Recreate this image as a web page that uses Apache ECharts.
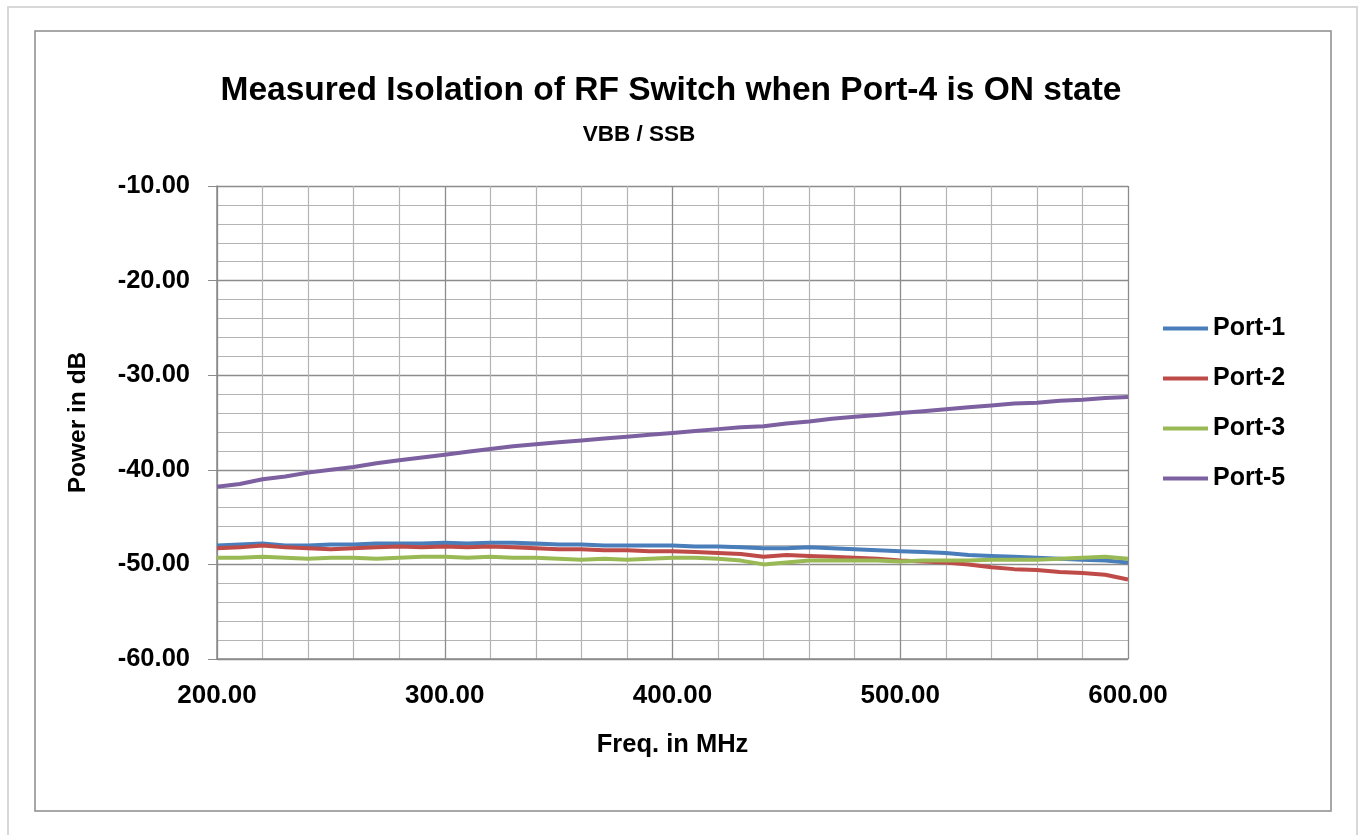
<!DOCTYPE html>
<html>
<head>
<meta charset="utf-8">
<script src="https://cdn.jsdelivr.net/npm/echarts@6/dist/echarts.min.js"></script>
<style>
html,body{margin:0;padding:0;background:#fff;}
#c{width:1359px;height:835px;}
</style>
</head>
<body>
<div id="c"></div>
<script>
var FONT = "'Liberation Sans',Arial,sans-serif";
var titleText = 'Measured Isolation of RF Switch when Port-4 is ON state';
var subtitleText = 'VBB / SSB';
var xAxisName = 'Freq. in MHz';
var yAxisName = 'Power in dB';
var seriesNames = ['Port-1', 'Port-2', 'Port-3', 'Port-5'];

var freq = [200,210,220,230,240,250,260,270,280,290,300,310,320,330,340,350,360,370,380,390,400,
            410,420,430,440,450,460,470,480,490,500,510,520,530,540,550,560,570,580,590,600];

var port1 = [-48.0,-47.9,-47.8,-48.0,-48.0,-47.9,-47.9,-47.8,-47.8,-47.8,-47.7,-47.8,-47.7,-47.7,-47.8,-47.9,-47.9,-48.0,-48.0,-48.0,-48.0,
             -48.1,-48.1,-48.2,-48.3,-48.3,-48.2,-48.3,-48.4,-48.5,-48.6,-48.7,-48.8,-49.0,-49.1,-49.2,-49.3,-49.4,-49.5,-49.6,-49.8];
var port2 = [-48.3,-48.2,-48.0,-48.2,-48.3,-48.4,-48.3,-48.2,-48.1,-48.2,-48.1,-48.2,-48.1,-48.2,-48.3,-48.4,-48.4,-48.5,-48.5,-48.6,-48.6,
             -48.7,-48.8,-48.9,-49.2,-49.0,-49.1,-49.2,-49.3,-49.4,-49.6,-49.7,-49.8,-50.0,-50.3,-50.5,-50.6,-50.8,-50.9,-51.1,-51.6];
var port3 = [-49.3,-49.3,-49.2,-49.3,-49.4,-49.3,-49.3,-49.4,-49.3,-49.2,-49.2,-49.3,-49.2,-49.3,-49.3,-49.4,-49.5,-49.4,-49.5,-49.4,-49.3,
             -49.3,-49.4,-49.6,-50.0,-49.8,-49.6,-49.6,-49.6,-49.6,-49.7,-49.6,-49.6,-49.6,-49.5,-49.5,-49.5,-49.4,-49.3,-49.2,-49.4];
var port5 = [-41.8,-41.5,-41.0,-40.7,-40.3,-40.0,-39.7,-39.3,-39.0,-38.7,-38.4,-38.1,-37.8,-37.5,-37.3,-37.1,-36.9,-36.7,-36.5,-36.3,-36.1,
             -35.9,-35.7,-35.5,-35.4,-35.1,-34.9,-34.6,-34.4,-34.2,-34.0,-33.8,-33.6,-33.4,-33.2,-33.0,-32.9,-32.7,-32.6,-32.4,-32.3];

var colors = ['#4a7ebb', '#be4b48', '#98b954', '#7d60a0'];
var allSeries = [port1, port2, port3, port5];

function pairs(v){ return freq.map(function(f,i){ return [f, v[i]]; }); }

var chart = echarts.init(document.getElementById('c'), null, {renderer:'canvas'});
var option = {
  backgroundColor: '#ffffff',
  animation: false,
  color: colors,
  title: [
    { text: titleText, left: 666, textAlign: 'center', top: 69,
      textStyle: { fontFamily: FONT, fontWeight: 'bold', fontSize: 33.5, color: '#000' } },
    { text: subtitleText, left: 634, textAlign: 'center', top: 118,
      textStyle: { fontFamily: FONT, fontWeight: 'bold', fontSize: 22.5, color: '#000' } }
  ],
  legend: {
    orient: 'vertical', left: 1158, top: 311, itemGap: 25,
    itemWidth: 45, itemHeight: 4, icon: 'rect',
    textStyle: { fontFamily: FONT, fontWeight: 'bold', fontSize: 25, color: '#000' },
    data: seriesNames
  },
  grid: { left: 217, top: 186, width: 911, height: 473, containLabel: false },
  xAxis: {
    type: 'value', min: 200, max: 600, interval: 100,
    name: xAxisName, nameLocation: 'middle', nameGap: 73,
    nameTextStyle: { fontFamily: FONT, fontWeight: 'bold', fontSize: 25.5, color: '#000' },
    axisLine: { show: true, onZero: false, lineStyle: { color: '#8a8a8a', width: 1.5 } },
    axisTick: { show: false },
    axisLabel: { margin: 24, fontFamily: FONT, fontWeight: 'bold', fontSize: 26, color: '#000',
      formatter: function(v){ return v.toFixed(2); } },
    splitLine: { show: true, lineStyle: { color: '#8c8c8c', width: 1.3 } },
    minorTick: { show: false, splitNumber: 5 },
    minorSplitLine: { show: true, lineStyle: { color: '#b4b4b4', width: 1.2 } }
  },
  yAxis: {
    type: 'value', min: -60, max: -10, interval: 10,
    name: yAxisName, nameLocation: 'middle', nameGap: 126,
    nameTextStyle: { fontFamily: FONT, fontWeight: 'bold', fontSize: 24.5, color: '#000' },
    axisLine: { show: true, lineStyle: { color: '#8a8a8a', width: 1.5 } },
    axisTick: { show: true, inside: false, length: 9, lineStyle: { color: '#8a8a8a' } },
    axisLabel: { margin: 27, fontFamily: FONT, fontWeight: 'bold', fontSize: 25.5, color: '#000',
      formatter: function(v){ return v.toFixed(2); } },
    splitLine: { show: true, lineStyle: { color: '#8c8c8c', width: 1.3 } },
    minorTick: { show: false, splitNumber: 5 },
    minorSplitLine: { show: true, lineStyle: { color: '#b4b4b4', width: 1.2 } }
  },
  graphic: [
    { type: 'rect', shape: { x: 8, y: 7, width: 1349, height: 840 }, silent: true,
      style: { fill: 'none', stroke: '#d8d8d8', lineWidth: 2 } },
    { type: 'rect', shape: { x: 35, y: 31, width: 1296, height: 780 }, silent: true,
      style: { fill: 'none', stroke: '#8c8c8c', lineWidth: 1.5 } }
  ],
  series: seriesNames.map(function(n, i){
    return {
      name: n, type: 'line', data: pairs(allSeries[i]),
      showSymbol: false, symbol: 'none', smooth: false,
      lineStyle: { color: colors[i], width: 4 },
      itemStyle: { color: colors[i] }
    };
  })
};
chart.setOption(option);
</script>
</body>
</html>
